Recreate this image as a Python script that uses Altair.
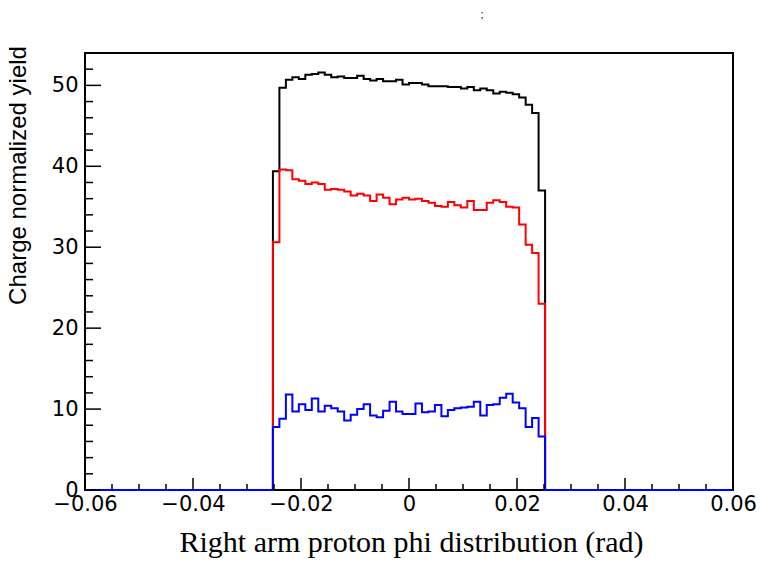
import altair as alt
import numpy as np
import pandas as pd

# Histogram definition: 100 bins from -0.06 to 0.06 rad; bins 29..70 are filled
n_bins = 100
x_lo, x_hi = -0.06, 0.06
first_bin = 29

black_vals = [39.4, 49.7, 50.7, 51.0, 50.8, 51.3, 51.4, 51.6, 51.3, 51.0, 51.1, 50.9,
              50.9, 51.2, 50.8, 50.6, 50.8, 50.5, 50.5, 50.7, 50.1, 50.3, 50.3, 50.1,
              49.9, 49.9, 49.9, 49.8, 49.8, 49.6, 49.8, 49.4, 49.6, 49.4, 49.0, 49.2,
              49.1, 48.9, 48.5, 47.6, 46.6, 37.0]
red_vals = [30.6, 39.6, 39.5, 38.4, 38.2, 37.8, 38.0, 37.8, 37.1, 37.2, 37.1, 36.9,
            36.4, 36.6, 36.4, 35.7, 36.5, 36.1, 35.3, 35.9, 36.1, 35.9, 36.0, 35.7,
            35.5, 35.1, 35.0, 35.6, 35.2, 34.9, 35.7, 34.6, 34.6, 35.5, 35.8, 35.6,
            35.0, 34.9, 32.8, 30.3, 29.3, 23.0]
blue_vals = [7.8, 8.8, 11.8, 9.7, 10.6, 9.9, 11.3, 9.7, 10.4, 10.1, 9.7, 8.6,
             9.3, 10.0, 10.6, 9.2, 9.0, 9.8, 10.9, 9.7, 9.4, 9.4, 10.7, 9.6,
             9.7, 10.5, 9.1, 9.9, 10.1, 10.2, 10.3, 10.9, 9.2, 10.5, 10.6, 11.4,
             11.9, 10.8, 10.1, 7.8, 8.9, 6.6]

x_major = [-0.06, -0.04, -0.02, 0, 0.02, 0.04, 0.06]
x_minor = [round(-0.06 + 0.005 * i, 3) for i in range(25) if i % 4 != 0]
y_major = [0, 10, 20, 30, 40, 50]
y_minor = [v for v in range(0, 54, 2) if v % 10 != 0]
y_max = 54

W, H = 648, 437

edges = np.linspace(x_lo, x_hi, n_bins + 1)


def hist_frame(vals):
    ys = []
    for i in range(n_bins + 1):
        j = i - first_bin
        ys.append(vals[j] if 0 <= j < len(vals) else 0.0)
    return pd.DataFrame({"edge": edges, "val": ys})


xs = alt.Scale(domain=[x_lo, x_hi], nice=False, zero=False)
ys = alt.Scale(domain=[0, y_max], nice=False, zero=True)

x_axis = alt.Axis(values=x_major, format="~g", labelFont="DejaVu Sans", labelFontSize=21,
                  labelColor="black", labelPadding=3, labelFlush=False, labelOverlap=False,
                  ticks=False, domain=False, grid=False,
                  title="Right arm proton phi distribution (rad)",
                  titleFont="Liberation Serif", titleFontSize=30, titleFontWeight="normal",
                  titleColor="black", titleX=326, titleY=61, titleAlign="center",
                  titleBaseline="alphabetic")
y_axis = alt.Axis(values=y_major, format="d", labelFont="DejaVu Sans", labelFontSize=21,
                  labelColor="black", labelPadding=7, labelOverlap=False, labelFlush=False,
                  ticks=False, domain=False, grid=False,
                  title="Charge normalized yield", titleFont="Liberation Sans",
                  titleFontSize=24, titleFontWeight="normal", titleColor="black",
                  titleX=-67, titleY=122, titleAlign="center", titleBaseline="middle",
                  titleAngle=270)


def hist_layer(vals, color):
    return alt.Chart(hist_frame(vals)).mark_line(
        interpolate="step-after", color=color, strokeWidth=2, clip=False
    ).encode(
        x=alt.X("edge:Q", scale=xs, axis=x_axis),
        y=alt.Y("val:Q", scale=ys, axis=y_axis),
    )


def tick_layer(values, orient, length):
    df = pd.DataFrame({"v": values})
    m = alt.Chart(df).mark_rule(color="black", strokeWidth=1.5)
    if orient == "x":
        return m.encode(x=alt.X("v:Q", scale=xs, axis=x_axis),
                        y=alt.value(H - length), y2=alt.value(H))
    return m.encode(y=alt.Y("v:Q", scale=ys, axis=y_axis),
                    x=alt.value(0), x2=alt.value(length))


title_mark = alt.Chart(pd.DataFrame({"t": [";"]})).mark_text(
    fontSize=11, font="Liberation Sans", fill="black", color="black"
).encode(x=alt.value(397), y=alt.value(-38), text="t:N")

chart = alt.layer(
    hist_layer(black_vals, "black"),
    hist_layer(red_vals, "#ff0000"),
    hist_layer(blue_vals, "#0000ff"),
    tick_layer(x_major, "x", 12),
    tick_layer(x_minor, "x", 6),
    tick_layer(y_major, "y", 16),
    tick_layer(y_minor, "y", 8),
    title_mark,
).properties(
    width=W, height=H,
    autosize=alt.AutoSizeParams(type="none"),
    padding={"left": 85, "top": 53, "right": 35, "bottom": 73},
    background="white",
).configure_view(stroke="black", strokeWidth=2)

chart.save("out.html", embed_options={"renderer": "svg", "actions": False})
